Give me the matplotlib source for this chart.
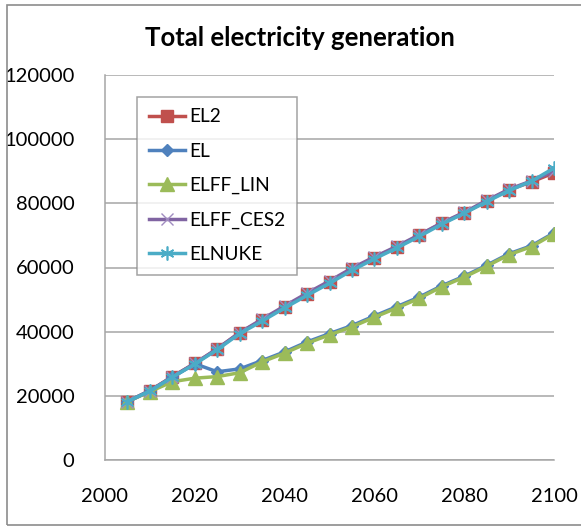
import matplotlib
matplotlib.use("Agg")
import matplotlib.pyplot as plt
from matplotlib.patches import Rectangle

plt.rcParams['font.family'] = ['Lato', 'DejaVu Sans']

years = [2005, 2010, 2015, 2020, 2025, 2030, 2035, 2040, 2045, 2050,
         2055, 2060, 2065, 2070, 2075, 2080, 2085, 2090, 2095, 2100]

el2 = [18200, 21600, 26000, 30100, 34600, 39700, 43600, 47700, 51700, 55500,
       59500, 63000, 66400, 70000, 73800, 77000, 80700, 84200, 86700, 89500]
el = [18200, 21600, 25800, 30000, 27500, 28400, 31000, 33700, 36800, 39400,
      41900, 44900, 47800, 50800, 54300, 57300, 60700, 64300, 66800, 70800]
elff_lin = [18200, 21300, 24400, 25500, 26000, 27200, 30600, 33300, 36400, 39000,
            41500, 44500, 47400, 50400, 54000, 57000, 60400, 64000, 66500, 70500]
elff_ces2 = [18200, 21600, 25900, 30100, 34700, 39700, 43900, 48000, 52000, 55800,
             59800, 63300, 66600, 70200, 73900, 77200, 80900, 84400, 87000, 90000]
elnuke = [18200, 21500, 25800, 29900, 34400, 39400, 43300, 47400, 51300, 55100,
          59100, 62700, 66100, 69700, 73500, 76900, 80500, 84000, 86900, 91000]

yticks = [0, 20000, 40000, 60000, 80000, 100000, 120000]
xticks = [2000, 2020, 2040, 2060, 2080, 2100]
title = "Total electricity generation"

W, H = 581, 526
fig = plt.figure(figsize=(W / 100, H / 100), dpi=100)

# outer chart frame
fig.patches.append(Rectangle((7 / W, 1 / H), 1.2, 520 / H, transform=fig.transFigure,
                             fill=False, edgecolor='#8c8c8c', linewidth=1.2))

ax = fig.add_axes([105 / W, (H - 460) / H, (554 - 105) / W, (460 - 75) / H])

lw = 2.5
ax.plot(years, el2, color='#C0504D', lw=lw, marker='s', ms=8.5,
        mfc='#C0504D', mec='#C0504D', label='EL2', zorder=3)
ax.plot(years, el, color='#4F81BD', lw=lw, marker='D', ms=6,
        mfc='#4F81BD', mec='#4F81BD', label='EL', zorder=4)
ax.plot(years, elff_lin, color='#9BBB59', lw=lw, marker='^', ms=10,
        mfc='#9BBB59', mec='#9BBB59', label='ELFF_LIN', zorder=5)
ax.plot(years, elff_ces2, color='#8064A2', lw=lw, marker='x', ms=8,
        mfc='#8064A2', mec='#A08CC0', mew=1.0, label='ELFF_CES2', zorder=6)
ax.plot(years, elnuke, color='#4BACC6', lw=lw, marker=(6, 2, 0), ms=10,
        mec='#4BACC6', mew=1.2, label='ELNUKE', zorder=7)

ax.set_xlim(2000, 2100)
ax.set_ylim(0, 120000)
ax.set_xticks(xticks)
ax.set_yticks(yticks)
ax.set_xticklabels([str(x) for x in xticks])
ax.set_yticklabels([str(y) for y in yticks])
ax.tick_params(axis='both', length=0, labelsize=14.5, colors='black')
ax.tick_params(axis='y', pad=22)
ax.tick_params(axis='x', pad=20)
ax.grid(axis='y', color='#a6a6a6', lw=1.1)
ax.set_axisbelow(True)
for s in ['top', 'right']:
    ax.spines[s].set_visible(False)
for s in ['left', 'bottom']:
    ax.spines[s].set_color('#a6a6a6')
    ax.spines[s].set_linewidth(1.1)

leg = ax.legend(loc='upper left', bbox_to_anchor=((137 - 105) / (554 - 105), (460 - 97) / (460 - 75)),
                fontsize=13.8, frameon=True, fancybox=False, edgecolor='#8c8c8c',
                handlelength=1.9, handletextpad=0.25, labelspacing=0.9,
                borderpad=0.6, borderaxespad=0)
leg.get_frame().set_linewidth(1.1)

fig.text(300 / W, 1 - 38 / H, title, ha='center', va='center',
         fontsize=18.5, fontweight='bold')

fig.savefig('out.png', dpi=100)
